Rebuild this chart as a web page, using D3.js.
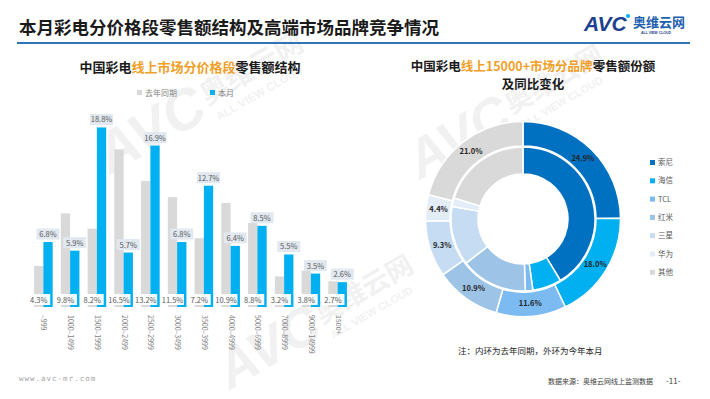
<!DOCTYPE html>
<html>
<head>
<meta charset="utf-8">
<script src="https://cdn.jsdelivr.net/npm/d3@7"></script>
<style>
  html, body { margin: 0; padding: 0; background: #fff; }
  svg { display: block; font-family: "Noto Sans CJK SC", "Noto Sans", sans-serif; }
</style>
</head>
<body>
<svg id="chart" width="710" height="399"></svg>
<script>
// price bands
const categories = ["-999", "1000-1499", "1500-1999", "2000-2499", "2500-2999", "3000-3499",
  "3500-3999", "4000-4999", "5000-6999", "7000-8999", "9000-14999", "1500+"];
const lastYear = [4.3, 9.8, 8.2, 16.5, 13.2, 11.5, 7.2, 10.9, 8.8, 3.2, 3.8, 2.7];
const thisMonth = [6.8, 5.9, 18.8, 5.7, 16.9, 6.8, 12.7, 6.4, 8.5, 5.5, 3.5, 2.6];
const seriesNames = ["去年同期", "本月"];

// 15000+ brands
const brands = ["索尼", "海信", "TCL", "红米", "三星", "华为", "其他"];
const brandColors = ["#0070c0", "#00b0f0", "#7cbaf2", "#9dc3e6", "#c5dcf3", "#e2edf8", "#d9d9d9"];
const outerShare = [24.9, 18.0, 11.6, 10.9, 9.3, 4.4, 21.0];
const innerShare = [41.3, 6.5, 1.7, 15.0, 13.3, 1.9, 20.3];

const svg = d3.select("#chart");
const grey = "#d9d9d9", blue = "#00b0f0", orange = "#f0a028";

// watermarks
function watermark(x, y, s) {
  const g = svg.append("g").attr("transform", `translate(${x},${y}) rotate(-30) scale(${s})`)
    .attr("opacity", 0.05).attr("fill", "#000");
  g.append("text").attr("x", 0).attr("y", 0).attr("font-size", 60).attr("font-weight", 900)
    .attr("font-style", "italic").attr("font-family", "Arial, Liberation Sans, sans-serif").text("AVC");
  g.append("text").attr("x", 125).attr("y", -12).attr("font-size", 30).attr("font-weight", 700).text("奥维云网");
  g.append("text").attr("x", 128).attr("y", 8).attr("font-size", 12).attr("font-weight", 700)
    .attr("font-family", "Arial, Liberation Sans, sans-serif").text("ALL VIEW CLOUD");
}
watermark(110, 175, 0.95);
watermark(420, 180, 0.9);
watermark(230, 390, 0.9);

// header
svg.append("text").attr("x", 19).attr("y", 34).attr("font-size", 17.5).attr("font-weight", 700)
  .attr("fill", "#1a1a1a").text("本月彩电分价格段零售额结构及高端市场品牌竞争情况");
svg.append("line").attr("x1", 17).attr("x2", 690).attr("y1", 43).attr("y2", 43)
  .attr("stroke", "#2e75b6").attr("stroke-width", 2);

// logo
svg.append("text").attr("x", 584).attr("y", 31).attr("font-size", 21).attr("font-weight", 900)
  .attr("font-style", "italic").attr("font-family", "Arial, Liberation Sans, sans-serif")
  .attr("fill", "#1d3f8f").text("AVC");
svg.append("circle").attr("cx", 628).attr("cy", 16).attr("r", 2).attr("fill", "#00b0f0");
svg.append("text").attr("x", 633).attr("y", 27).attr("font-size", 13).attr("font-weight", 700)
  .attr("fill", "#1f5fb0").text("奥维云网");
svg.append("text").attr("x", 641).attr("y", 34).attr("font-size", 3.5).attr("font-weight", 700)
  .attr("font-family", "Arial, Liberation Sans, sans-serif").attr("fill", "#1d3f8f").text("ALL VIEW CLOUD");

// ---- bar chart ----
const t1 = svg.append("text").attr("x", 190).attr("y", 72).attr("text-anchor", "middle")
  .attr("font-size", 13).attr("font-weight", 700).attr("fill", "#1a1a1a");
t1.append("tspan").text("中国彩电");
t1.append("tspan").attr("fill", orange).text("线上市场分价格段");
t1.append("tspan").text("零售额结构");

const legend = svg.append("g").attr("font-size", 8).attr("fill", "#7f7f7f");
[grey, blue].forEach((c, i) => {
  const lx = [139, 212][i];
  legend.append("rect").attr("x", lx - 2).attr("y", 90).attr("width", 5).attr("height", 5).attr("fill", c);
  legend.append("text").attr("x", lx + 6).attr("y", 95.5).text(seriesNames[i]);
});

const x0 = d3.scaleBand().domain(categories).range([30, 351]).paddingInner(0.305).paddingOuter(0.1525);
const x1 = d3.scaleBand().domain(["ly", "cm"]).range([0, x0.bandwidth()]);
const y = d3.scaleLinear().domain([0, 20]).range([307, 116]);

const groups = svg.append("g").selectAll("g").data(categories).join("g")
  .attr("transform", d => `translate(${x0(d)},0)`);

groups.append("rect").attr("x", x1("ly")).attr("width", x1.bandwidth())
  .attr("y", (d, i) => y(lastYear[i])).attr("height", (d, i) => y(0) - y(lastYear[i])).attr("fill", grey);
groups.append("rect").attr("x", x1("cm")).attr("width", x1.bandwidth())
  .attr("y", (d, i) => y(thisMonth[i])).attr("height", (d, i) => y(0) - y(thisMonth[i])).attr("fill", blue);

function fmt(v) { return v.toFixed(1) + "%"; }

// this-month labels above bars
groups.each(function (d, i) {
  const g = d3.select(this);
  const cx = x1("cm") + x1.bandwidth() / 2;
  const cy = y(thisMonth[i]) - 8;
  g.append("rect").attr("x", cx - 11.5).attr("y", cy - 5.5).attr("width", 23).attr("height", 11)
    .attr("fill", "#e1e8f0");
  g.append("text").attr("x", cx).attr("y", cy + 3).attr("text-anchor", "middle")
    .attr("font-size", 7.5).attr("fill", "#595959").text(fmt(thisMonth[i]));
  // last-year labels at the bottom
  const gx = x1("ly") + x1.bandwidth() / 2;
  const gy = 299.5;
  g.append("rect").attr("x", gx - 11.5).attr("y", gy - 5.5).attr("width", 23).attr("height", 11)
    .attr("fill", "#fff").attr("fill-opacity", 0.95);
  g.append("text").attr("x", gx).attr("y", gy + 3).attr("text-anchor", "middle")
    .attr("font-size", 7.5).attr("fill", "#595959").text(fmt(lastYear[i]));
});

// x axis labels, rotated
svg.append("g").selectAll("text").data(categories).join("text")
  .attr("transform", d => `translate(${x0(d) + x0.bandwidth() / 2 + 0.5},315) rotate(90)`)
  .attr("dy", "0.35em").attr("font-size", 7).attr("fill", "#7f7f7f").text(d => d.replace("-", "–"));

// ---- donut ----
const t2 = svg.append("g").attr("font-size", 12.5).attr("font-weight", 700).attr("fill", "#1a1a1a")
  .attr("text-anchor", "middle");
const l1 = t2.append("text").attr("x", 533).attr("y", 71);
l1.append("tspan").text("中国彩电");
l1.append("tspan").attr("fill", orange).text("线上15000+市场分品牌");
l1.append("tspan").text("零售额份额");
t2.append("text").attr("x", 533).attr("y", 89).text("及同比变化");

const cx = 523, cy = 219;
const pie = d3.pie().sort(null).value(d => d);
const arcIn = d3.arc().innerRadius(45).outerRadius(72);
const arcOut = d3.arc().innerRadius(73).outerRadius(97.5);
const donut = svg.append("g").attr("transform", `translate(${cx},${cy})`);

donut.append("g").selectAll("path").data(pie(innerShare)).join("path")
  .attr("d", arcIn).attr("fill", (d, i) => brandColors[i]).attr("stroke", "#fff").attr("stroke-width", 1.5);
donut.append("g").selectAll("path").data(pie(outerShare)).join("path")
  .attr("d", arcOut).attr("fill", (d, i) => brandColors[i]).attr("stroke", "#fff").attr("stroke-width", 1.5);

const labelArc = d3.arc().innerRadius(85).outerRadius(85);
donut.append("g").selectAll("text").data(pie(outerShare)).join("text")
  .attr("transform", d => `translate(${labelArc.centroid(d)})`)
  .attr("text-anchor", "middle").attr("dy", "0.35em")
  .attr("font-size", 7.5).attr("font-weight", 700).attr("fill", "#262626")
  .text(d => fmt(d.data));

const leg2 = svg.append("g").selectAll("g").data(brands).join("g")
  .attr("transform", (d, i) => `translate(650,${162.5 + i * 18.3})`);
leg2.append("rect").attr("x", 0).attr("y", -2.5).attr("width", 5).attr("height", 5)
  .attr("fill", (d, i) => brandColors[i]);
leg2.append("text").attr("x", 8).attr("y", 0).attr("dy", "0.35em").attr("font-size", 7.5)
  .attr("fill", "#595959").text(d => d);

svg.append("text").attr("x", 458).attr("y", 354).attr("font-size", 8.5).attr("fill", "#262626")
  .text("注：内环为去年同期，外环为今年本月");

// footer
svg.append("text").attr("x", 19).attr("y", 381).attr("font-size", 7.5).attr("fill", "#a6a6a6")
  .attr("letter-spacing", 1).attr("font-family", "DejaVu Sans Mono, monospace").text("www.avc-mr.com");
svg.append("text").attr("x", 548).attr("y", 384).attr("font-size", 7).attr("fill", "#404040")
  .text("数据来源：奥维云网线上监测数据");
svg.append("text").attr("x", 666).attr("y", 384).attr("font-size", 8).attr("fill", "#404040")
  .text("-11-");
</script>
</body>
</html>
